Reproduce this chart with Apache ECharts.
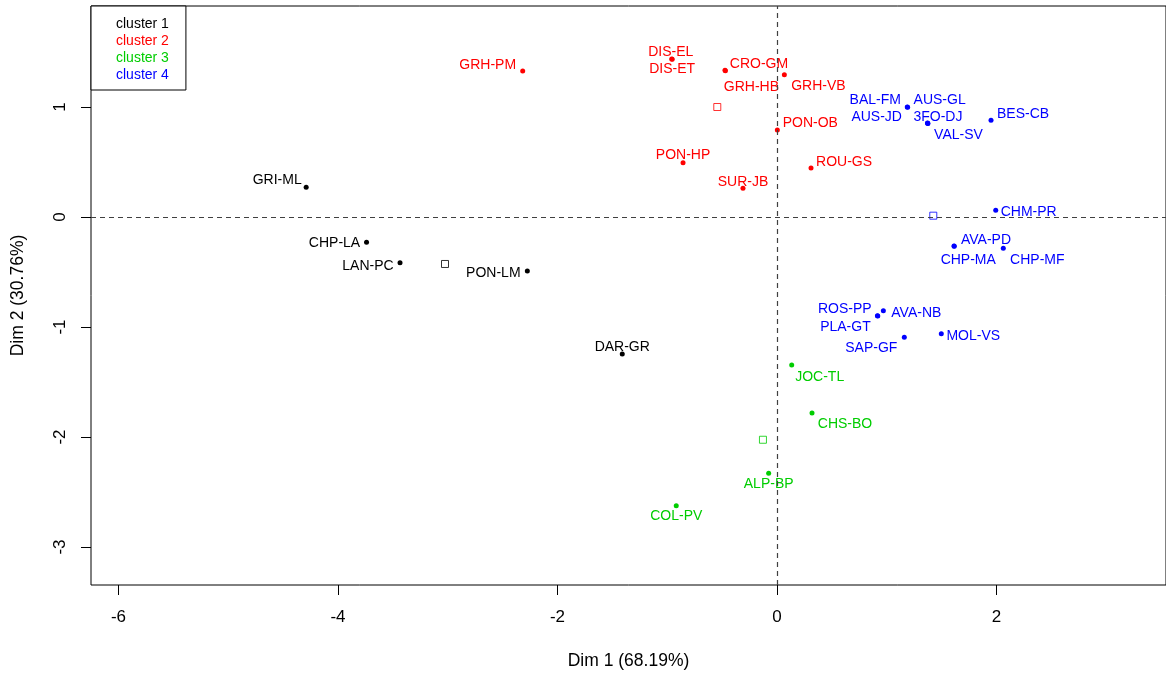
<!DOCTYPE html>
<html>
<head>
<meta charset="utf-8">
<script src="https://cdn.jsdelivr.net/npm/echarts@6/dist/echarts.min.js"></script>
<style>
html,body{margin:0;padding:0;background:#fff;}
#chart{width:1166px;height:675px;}
</style>
</head>
<body>
<div id="chart"></div>
<script>
// ---------- data ----------
const clusterNames = ['cluster 1', 'cluster 2', 'cluster 3', 'cluster 4'];

const c1Names = ['GRI-ML', 'CHP-LA', 'LAN-PC', 'PON-LM', 'DAR-GR'];
const c1X = [-4.29, -3.74, -3.435, -2.275, -1.41];
const c1Y = [0.27, -0.23, -0.415, -0.49, -1.245];

const c2Names = ['GRH-PM', 'DIS-EL', 'DIS-ET', 'CRO-GM', 'GRH-HB', 'GRH-VB', 'PON-OB', 'PON-HP', 'SUR-JB', 'ROU-GS'];
const c2X = [-2.317, -0.959, -0.955, -0.474, -0.47, 0.067, 0.003, -0.856, -0.31, 0.31];
const c2Y = [1.327, 1.436, 1.434, 1.334, 1.33, 1.294, 0.791, 0.494, 0.261, 0.445];

const c3Names = ['JOC-TL', 'CHS-BO', 'ALP-BP', 'COL-PV'];
const c3X = [0.134, 0.319, -0.076, -0.918];
const c3Y = [-1.345, -1.782, -2.33, -2.625];

const c4Names = ['BAL-FM', 'AUS-GL', 'AUS-JD', '3FO-DJ', 'VAL-SV', 'BES-CB', 'CHM-PR', 'AVA-PD', 'CHP-MA', 'CHP-MF', 'ROS-PP', 'PLA-GT', 'AVA-NB', 'SAP-GF', 'MOL-VS'];
const c4X = [1.187, 1.19, 1.373, 1.375, 1.371, 1.95, 1.993, 1.613, 1.615, 2.062, 0.918, 0.915, 0.969, 1.16, 1.497];
const c4Y = [1.0, 0.998, 0.852, 0.85, 0.854, 0.879, 0.061, -0.264, -0.266, -0.285, -0.9, -0.898, -0.852, -1.094, -1.061];

const centroidX = [-3.025, -0.544, -0.128, 1.424];
const centroidY = [-0.427, 1.0, -2.025, 0.012];

const xTicks = [-6, -4, -2, 0, 2];
const yTicks = [-3, -2, -1, 0, 1];

const xTitle = 'Dim 1 (68.19%)';
const yTitle = 'Dim 2 (30.76%)';

// ---------- styles ----------
const colors = ['#000000', '#FF0000', '#00CD00', '#0000FF'];
const FONT = '"Liberation Sans", Arial, sans-serif';
// label centre offsets (pixels) relative to each point
const labelOffset = {
  'GRI-ML': [-29, -7], 'CHP-LA': [-32, 1], 'LAN-PC': [-32, 3], 'PON-LM': [-34, 2], 'DAR-GR': [0, -7],
  'GRH-PM': [-35, -6], 'DIS-EL': [-1, -7], 'DIS-ET': [0, 10], 'CRO-GM': [34, -6], 'GRH-HB': [26, 16],
  'GRH-VB': [34, 11], 'PON-OB': [33, -7], 'PON-HP': [0, -8], 'SUR-JB': [0, -6], 'ROU-GS': [33, -6],
  'JOC-TL': [28, 12], 'CHS-BO': [33, 11], 'ALP-BP': [0, 11], 'COL-PV': [0, 10],
  'BAL-FM': [-32, -7], 'AUS-GL': [32, -7], 'AUS-JD': [-51, -6], '3FO-DJ': [10, -6], 'VAL-SV': [31, 12],
  'BES-CB': [32, -6], 'CHM-PR': [33, 2], 'AVA-PD': [32, -6], 'CHP-MA': [14, 14], 'CHP-MF': [34, 12],
  'ROS-PP': [-33, -7], 'PLA-GT': [-32, 11], 'AVA-NB': [33, 2], 'SAP-GF': [-33, 11], 'MOL-VS': [32, 2]
};

const PX_PER_X = 109.75, PX_PER_Y = 110;
const X0 = 777, Y0 = 217;
const gridLeft = 91, gridTop = 6, gridRight = 0, gridBottom = 90;
const xMin = (gridLeft - X0) / PX_PER_X;
const xMax = (1166 - gridRight - X0) / PX_PER_X;
const yMax = (Y0 - gridTop) / PX_PER_Y;
const yMin = (Y0 - (675 - gridBottom)) / PX_PER_Y;

function buildPoints(names, xs, ys) {
  return names.map((n, i) => ({ name: n, value: [xs[i], ys[i]] }));
}

const groups = [
  [c1Names, c1X, c1Y],
  [c2Names, c2X, c2Y],
  [c3Names, c3X, c3Y],
  [c4Names, c4X, c4Y]
];

const series = groups.map((g, k) => ({
  name: clusterNames[k],
  type: 'scatter',
  symbol: 'circle',
  symbolSize: 5,
  itemStyle: { color: colors[k], opacity: 1 },
  label: {
    show: true,
    position: 'inside',
    align: 'center',
    verticalAlign: 'middle',
    formatter: '{b}',
    color: colors[k],
    fontFamily: FONT,
    fontSize: 14
  },
  labelLayout: function (params) {
    const n = g[0][params.dataIndex];
    const o = labelOffset[n] || [0, 0];
    return { dx: o[0], dy: o[1], hideOverlap: false };
  },
  emphasis: { disabled: true },
  silent: true,
  z: 3,
  data: buildPoints(g[0], g[1], g[2])
}));

series.push({
  name: 'centres',
  type: 'scatter',
  symbol: 'rect',
  symbolSize: 7,
  silent: true,
  z: 4,
  data: centroidX.map((x, i) => ({
    value: [x, centroidY[i]],
    itemStyle: { color: '#ffffff', borderColor: colors[i], borderWidth: 1 }
  })),
  markLine: {
    silent: true,
    symbol: 'none',
    label: { show: false },
    lineStyle: { color: '#404040', type: [5, 4], width: 1.2 },
    emphasis: { disabled: true },
    data: [{ xAxis: 0 }, { yAxis: 0 }]
  }
});

const chart = echarts.init(document.getElementById('chart'), null, { renderer: 'canvas' });
chart.setOption({
  animation: false,
  backgroundColor: '#ffffff',
  textStyle: { fontFamily: FONT },
  grid: {
    left: gridLeft, top: gridTop, right: gridRight, bottom: gridBottom,
    show: true, borderColor: '#000000', borderWidth: 1, backgroundColor: 'transparent'
  },
  legend: {
    orient: 'vertical',
    left: gridLeft,
    top: gridTop,
    icon: 'none',
    itemWidth: 0,
    itemHeight: 14,
    itemGap: 3,
    padding: [11, 17, 8, 20],
    borderColor: '#000000',
    borderWidth: 1,
    borderRadius: 0,
    backgroundColor: '#ffffff',
    selectedMode: false,
    textStyle: { fontFamily: FONT, fontSize: 14 },
    data: clusterNames.map((n, i) => ({ name: n, textStyle: { color: colors[i] } }))
  },
  xAxis: {
    type: 'value',
    min: xMin, max: xMax,
    name: xTitle,
    nameLocation: 'middle',
    nameGap: 67,
    nameTextStyle: { fontFamily: FONT, fontSize: 17.5, color: '#000' },
    splitLine: { show: false },
    axisLine: { show: false, onZero: false },
    axisTick: { show: true, inside: false, length: 10, customValues: xTicks, lineStyle: { color: '#000' } },
    axisLabel: { show: true, customValues: xTicks, margin: 24, fontFamily: FONT, fontSize: 17, color: '#000' }
  },
  yAxis: {
    type: 'value',
    min: yMin, max: yMax,
    name: yTitle,
    nameLocation: 'middle',
    nameGap: 64,
    nameRotate: 90,
    nameTextStyle: { fontFamily: FONT, fontSize: 17.5, color: '#000' },
    splitLine: { show: false },
    axisLine: { show: false, onZero: false },
    axisTick: { show: true, inside: false, length: 10, customValues: yTicks, lineStyle: { color: '#000' } },
    axisLabel: { show: true, customValues: yTicks, rotate: 90, margin: 22, fontFamily: FONT, fontSize: 17, color: '#000' }
  },
  series: series
});
</script>
</body>
</html>
